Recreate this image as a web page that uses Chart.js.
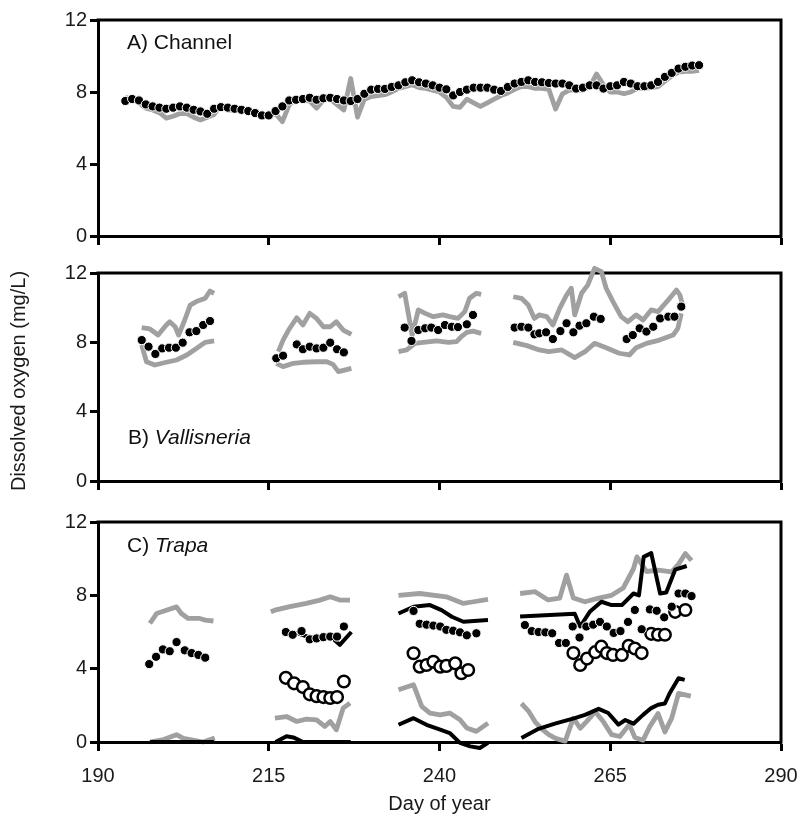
<!DOCTYPE html>
<html><head><meta charset="utf-8">
<script src="https://cdn.jsdelivr.net/npm/chart.js@4.4.1/dist/chart.umd.min.js"></script>
<style>
html,body{margin:0;padding:0;background:#fff;}
#wrap{position:relative;width:811px;height:816px;overflow:hidden;}
canvas{position:absolute;left:0;}
</style></head><body>
<div id="wrap">
<canvas id="cA" width="811" height="260" style="top:0px"></canvas>
<canvas id="cB" width="811" height="250" style="top:255px"></canvas>
<canvas id="cC" width="811" height="316" style="top:500px"></canvas>
</div>
<script>
// ---------- tick labels ----------
const xTicks = [190, 215, 240, 265, 290];
const yTicks = [0, 4, 8, 12];

// ---------- A) Channel ----------
const chDays = [194,195,196,197,198,199,200,201,202,203,204,205,206,207,208,209,210,211,212,213,214,215,216,217,218,219,220,221,222,223,224,225,226,227,228,229,230,231,232,233,234,235,236,237,238,239,240,241,242,243,244,245,246,247,248,249,250,251,252,253,254,255,256,257,258,259,260,261,262,263,264,265,266,267,268,269,270,271,272,273,274,275,276,277,278];
const chMean = [7.50,7.61,7.53,7.31,7.20,7.13,7.07,7.13,7.20,7.13,7.01,6.92,6.79,7.07,7.16,7.13,7.07,7.01,6.94,6.83,6.70,6.70,6.94,7.20,7.53,7.57,7.61,7.68,7.57,7.65,7.68,7.61,7.53,7.50,7.61,7.90,8.13,8.17,8.17,8.28,8.37,8.54,8.65,8.54,8.47,8.37,8.24,8.15,7.81,8.00,8.13,8.24,8.24,8.24,8.13,8.06,8.28,8.47,8.56,8.65,8.56,8.54,8.50,8.47,8.47,8.37,8.19,8.24,8.37,8.37,8.19,8.32,8.37,8.56,8.47,8.32,8.32,8.37,8.56,8.84,9.06,9.30,9.40,9.47,9.49];
const chGray = [7.70,7.60,7.40,7.10,7.00,6.85,6.55,6.65,6.80,6.80,6.60,6.45,6.60,6.75,7.30,7.00,7.00,7.00,6.90,6.80,6.70,6.65,6.80,6.35,7.30,7.60,7.55,7.50,7.10,7.55,7.60,7.30,7.00,8.75,6.60,7.60,7.75,7.80,7.85,8.00,8.20,8.30,8.40,8.25,8.20,8.10,8.00,7.70,7.20,7.15,7.60,7.40,7.20,7.40,7.60,7.80,7.95,8.15,8.30,8.30,8.20,8.20,8.15,7.05,7.90,8.10,8.10,8.10,8.30,9.00,8.40,8.00,8.00,7.90,8.00,8.20,8.20,8.25,8.30,8.60,8.90,9.10,9.15,9.15,9.20];

// ---------- B) Vallisneria ----------  [day, mg/L]
const vaMean = [[196.4,8.13],[197.4,7.75],[198.4,7.33],[199.4,7.65],[200.4,7.69],[201.4,7.69],[202.4,7.98],[203.4,8.58],[204.4,8.65],[205.4,9.0],[206.4,9.23],
  [216.1,7.08],[217.1,7.23],[219.1,7.88],[220,7.6],[221,7.75],[222,7.65],[223,7.69],[224,7.98],[225,7.6],[226,7.42],
  [234.9,8.85],[235.9,8.08],[236.9,8.71],[237.9,8.81],[238.8,8.85],[239.8,8.71],[240.8,9.0],[241.8,8.9],[242.7,8.88],[244,9.04],[244.9,9.58],
  [251,8.85],[252,8.9],[253,8.85],[253.9,8.46],[254.6,8.52],[255.6,8.58],[256.6,8.19],[257.7,8.65],[258.6,9.1],[259.6,8.58],[260.5,8.96],[261.5,9.1],[262.6,9.48],[263.6,9.35],
  [267.4,8.19],[268.3,8.42],[269.3,8.81],[270.3,8.62],[271.3,8.9],[272.3,9.38],[273.5,9.48],[274.4,9.48],[275.4,10.06]];
const vaHigh = [[196.4,8.85],[197.6,8.77],[198.8,8.42],[200,9.0],[200.5,9.19],[201.3,8.9],[201.8,8.42],[202.7,9.29],[203.5,10.15],[204.4,10.35],[205.7,10.54],[206.4,10.96],[207,10.83],[211,null],
  [216.4,7.46],[217.1,8.13],[217.9,8.71],[219.1,9.42],[220,9.0],[221,9.67],[222,9.38],[223,8.9],[224,8.9],[224.9,9.19],[225.9,8.71],[227.1,8.46],[230,null],
  [234,10.63],[234.9,10.83],[236,8.42],[236.9,9.87],[237.9,9.67],[239.1,9.48],[240.5,9.58],[241.5,9.48],[242.7,9.38],[243.7,9.77],[244.4,10.54],[245.4,10.83],[246.1,10.77],[249,null],
  [250.8,10.63],[252,10.54],[253,10.15],[253.9,9.38],[254.6,9.58],[255.7,9.48],[256.6,9.0],[257.6,9.96],[258.6,10.73],[259.3,11.12],[259.8,9.58],[260.8,10.83],[261.7,11.3],[262.7,12.27],[263.7,12.08],[264.4,11.12],[265.4,10.35],[266.6,9.48],[267.6,9.19],[268.8,9.58],[269.8,9.29],[271,9.87],[272,9.77],[273.7,10.54],[274.7,11.02],[275.2,10.73],[275.6,10.15]];
const vaLow = [[196.4,7.85],[197.1,6.88],[198.3,6.69],[200,6.85],[201.5,6.98],[203,7.27],[204.4,7.65],[205.7,8.0],[207,8.08],[211,null],
  [216.1,6.79],[217.1,6.6],[218.6,6.79],[220,6.85],[222,6.88],[223.5,6.88],[224.4,6.73],[225.2,6.31],[226.1,6.4],[227.1,6.5],[230,null],
  [234,7.46],[235.2,7.56],[236.4,7.94],[237.6,8.0],[239.6,8.08],[241.3,8.0],[242.5,8.04],[243.2,8.33],[244,8.58],[244.9,8.65],[246.1,8.52],[249,null],
  [250.8,8.0],[252.8,7.81],[254.6,7.56],[256,7.46],[257.9,7.56],[259.8,7.12],[261.3,7.46],[262.7,7.94],[264.4,7.69],[266.3,7.37],[267.8,7.27],[268.8,7.69],[270.3,7.94],[272.2,8.13],[274.2,8.42],[274.9,8.81],[275.4,9.67]];

// ---------- C) Trapa ----------  [day, mg/L]
const trFilled = [[197.5,4.25],[198.5,4.65],[199.5,5.05],[200.5,4.95],[201.5,5.45],[202.7,5.0],[203.7,4.85],[204.7,4.75],[205.7,4.6],
  [217.5,6.0],[218.5,5.85],[219.8,6.05],[221,5.6],[222,5.65],[223,5.72],[224,5.75],[225,5.75],[226,6.3],
  [236.2,7.15],[237.1,6.45],[238.1,6.4],[239.1,6.35],[240.1,6.3],[241,6.12],[242,6.07],[243,5.98],[244,5.82],[245.4,5.93],
  [252.5,6.38],[253.5,6.05],[254.5,6.0],[255.5,5.98],[256.5,5.93],[257.5,5.4],[258.5,5.4],[259.5,6.3],[260.5,5.7],[261.5,6.3],[262.5,6.4],[263.5,6.55],[264.5,6.3],[265.5,5.95],[266.5,6.05],[267.6,6.55],[268.6,7.2],[269.6,6.15],[270.8,7.23],[271.8,7.16],[272.9,6.8],[274,7.38],[275,8.1],[276,8.1],[276.9,7.96]];
const trOpen = [[217.5,3.5],[218.7,3.2],[220,3.0],[221,2.6],[222,2.5],[223,2.45],[224,2.4],[225,2.45],[226,3.3],
  [236.2,4.84],[237.1,4.11],[238.1,4.2],[239.1,4.38],[240.1,4.11],[241,4.15],[242.3,4.29],[243.2,3.75],[244.2,3.93],
  [259.6,4.85],[260.6,4.2],[261.6,4.55],[262.8,4.9],[263.7,5.2],[264.5,4.85],[265.4,4.75],[266.7,4.75],[267.7,5.25],[268.6,5.1],[269.6,4.85],[271,5.9],[272,5.85],[273,5.85],[274.5,7.1],[276,7.2]];
const trGrayHigh = [[197.6,6.47],[198.6,7.01],[200,7.19],[201.5,7.37],[202.2,7.01],[203.2,6.74],[204.9,6.74],[205.7,6.65],[206.9,6.6],[211,null],
  [215.3,7.1],[215.9,7.19],[218.1,7.38],[220.5,7.56],[222.5,7.74],[224,7.92],[225.4,7.74],[226.9,7.74],[230,null],
  [234,8.0],[237.1,8.1],[241,7.92],[243.5,7.56],[245,7.65],[247.1,7.78],[249,null],
  [251.8,8.1],[254,8.2],[255.9,7.75],[257.6,7.85],[258.6,9.1],[259.6,7.85],[261.3,7.65],[263.3,7.85],[265.2,8.0],[266.9,8.4],[268.4,9.45],[268.9,10.1],[270.3,9.3],[272,9.37],[274,9.28],[275,9.7],[276,10.28],[276.9,9.9]];
const trBlackHigh = [[217.4,5.95],[219.3,5.93],[221,5.7],[223,5.75],[224.5,5.6],[225.4,5.3],[227.1,6.0],[230,null],
  [234,7.01],[236.2,7.38],[238.6,7.47],[240.3,7.19],[241.8,6.83],[243.5,6.56],[247.1,6.65],[249,null],
  [251.8,6.85],[259.8,7.0],[260.6,6.3],[262,7.1],[263.7,7.65],[265.2,7.47],[266.7,7.47],[268.4,8.1],[269.2,8.0],[269.9,10.1],[271,10.3],[272.3,8.1],[273.2,8.15],[274.5,9.4],[276.2,9.6]];
const trGrayLow = [[197.6,0.0],[199.6,0.13],[201.5,0.4],[202.5,0.2],[203.5,0.13],[205.4,0.0],[207.1,0.22],[211,null],
  [215.9,1.3],[217.6,1.39],[219.1,1.12],[220.5,1.25],[222,1.21],[223.2,0.85],[224,1.12],[224.9,0.67],[225.9,1.85],[226.9,2.12],[230,null],
  [234,2.85],[236.2,3.12],[237.4,1.94],[238.6,1.58],[240.1,1.48],[241.5,1.58],[243,1.21],[244,0.76],[245.4,0.58],[247.1,1.03],[249,null],
  [252,2.1],[253,1.7],[254,1.1],[255,0.7],[256,0.4],[257,0.2],[258.4,0.05],[259.6,1.3],[260.6,0.75],[261.5,1.1],[262.8,1.65],[264,1.1],[265.2,0.4],[266.4,0.3],[267.8,0.95],[268.6,0.25],[269.8,0.1],[270.8,0.85],[272,1.55],[273,0.55],[274,1.3],[275,2.65],[276.8,2.5]];
const trBlackLow = [[197.6,0],[207,0],[211,null],
  [216,0],[217.6,0.31],[218.6,0.25],[220,0],[227,0],[230,null],
  [234,0.94],[236.2,1.3],[238.1,0.94],[240.1,0.67],[241.5,0.49],[243,-0.05],[244.5,-0.24],[245.9,-0.33],[247.1,-0.05],[249,null],
  [252,0.22],[254.5,0.72],[256.9,1.0],[259.8,1.3],[261.3,1.48],[263.3,1.81],[264.7,1.58],[266.2,0.95],[267.2,1.2],[268.4,1.0],[269.8,1.48],[271,1.85],[272,2.03],[273,2.1],[273.7,2.66],[275,3.48],[275.9,3.39]];

// ---------- styling / helpers ----------
const FONT = '"Liberation Sans", Arial, Helvetica, sans-serif';
const GRAY = '#a0a0a0';
const pts = (days, vals) => days.map((d, i) => ({x: d, y: vals[i]}));
const pairs = arr => arr.map(p => ({x: p[0], y: p[1]}));

function lineDS(data, color, width, order) {
  return {data, showLine: true, borderColor: color, borderWidth: width, pointRadius: 0,
    pointHoverRadius: 0, spanGaps: false, tension: 0, clip: false, order,
    borderJoinStyle: 'round', borderCapStyle: 'butt', fill: false};
}
function dotDS(data, filled, order) {
  return {data, showLine: false, order, clip: false,
    pointRadius: filled ? 4.6 : 5.8, pointHoverRadius: filled ? 4.6 : 5.8,
    pointBackgroundColor: filled ? '#000' : '#fff',
    pointBorderColor: filled ? '#fff' : '#000',
    pointBorderWidth: filled ? 1 : 2.5};
}

const framePlugin = {
  id: 'frame',
  beforeDatasetsDraw(chart) {
    const {ctx, chartArea: {left, top, right, bottom}} = chart;
    ctx.save();
    ctx.strokeStyle = '#000';
    ctx.lineWidth = 3;
    ctx.beginPath();
    ctx.moveTo(left - 1.5, top);
    ctx.lineTo(right, top);
    ctx.lineTo(right, bottom + 1.5);
    ctx.stroke();
    ctx.restore();
  }
};
const labelPlugin = {
  id: 'panelLabel',
  afterDraw(chart, args, opts) {
    const {ctx, chartArea} = chart;
    if (opts.parts) {
      let x = chartArea.left + opts.dx;
      const y = opts.fromBottom ? chartArea.bottom - opts.dy : chartArea.top + opts.dy;
      ctx.save();
      ctx.fillStyle = '#111';
      ctx.textBaseline = 'middle';
      for (const [t, italic] of opts.parts) {
        ctx.font = (italic ? 'italic ' : '') + '21px ' + FONT;
        ctx.fillText(t, x, y);
        x += ctx.measureText(t).width;
      }
      ctx.restore();
    }
    if (opts.yTitle) {
      ctx.save();
      ctx.fillStyle = '#1a1a1a';
      ctx.font = '20px ' + FONT;
      ctx.textAlign = 'center';
      ctx.textBaseline = 'middle';
      ctx.translate(opts.yTitle.x, (chartArea.top + chartArea.bottom) / 2 + opts.yTitle.dy);
      ctx.rotate(-Math.PI / 2);
      ctx.fillText(opts.yTitle.text, 0, 0);
      ctx.restore();
    }
  }
};

function makeChart(id, datasets, o) {
  return new Chart(document.getElementById(id), {
    type: 'line',
    data: {datasets},
    plugins: [framePlugin, labelPlugin],
    options: {
      responsive: false, animation: false, events: [],
      layout: {padding: {top: o.padTop, right: 30, bottom: 0, left: 0}},
      plugins: {legend: {display: false}, tooltip: {enabled: false}, panelLabel: o.label},
      scales: {
        x: {
          type: 'linear', min: 190, max: 290,
          afterBuildTicks: s => { s.ticks = xTicks.map(v => ({value: v})); },
          afterFit: s => { s.height = o.xHeight; },
          ticks: {display: o.xLabels, autoSkip: false, maxRotation: 0, padding: 13,
            color: '#1a1a1a', font: {family: FONT, size: 20}, callback: v => String(v)},
          grid: {drawOnChartArea: false, drawTicks: true, tickLength: 9, tickWidth: 3, tickColor: '#000'},
          border: {display: true, color: '#000', width: 3},
          title: {display: o.xLabels, text: 'Day of year', color: '#1a1a1a',
            font: {family: FONT, size: 20}, padding: {top: 0, bottom: 0}}
        },
        y: {
          type: 'linear', min: 0, max: 12,
          afterBuildTicks: s => { s.ticks = yTicks.map(v => ({value: v})); },
          afterFit: s => { s.width = 98; },
          ticks: {padding: 3, color: '#1a1a1a', font: {family: FONT, size: 20}, callback: v => String(v)},
          grid: {drawOnChartArea: false, drawTicks: true, tickLength: 8, tickWidth: 3, tickColor: '#000'},
          border: {display: true, color: '#000', width: 3}
        }
      }
    }
  });
}

makeChart('cA', [
  dotDS(pts(chDays, chMean), true, 1),
  lineDS(pts(chDays, chGray), GRAY, 4.8, 5)
], {padTop: 20, xHeight: 24, xLabels: false,
    label: {parts: [['A) Channel', false]], dx: 29, dy: 23}});

makeChart('cB', [
  dotDS(pairs(vaMean), true, 1),
  lineDS(pairs(vaHigh), GRAY, 4.8, 5),
  lineDS(pairs(vaLow), GRAY, 4.8, 6)
], {padTop: 18, xHeight: 24, xLabels: false,
    label: {parts: [['B) ', false], ['Vallisneria', true]], dx: 30, dy: 43, fromBottom: true,
            yTitle: {text: 'Dissolved oxygen (mg/L)', x: 19, dy: 4}}});

makeChart('cC', [
  dotDS(pairs(trFilled), true, 1),
  dotDS(pairs(trOpen), false, 2),
  lineDS(pairs(trBlackHigh), '#000', 4, 3),
  lineDS(pairs(trBlackLow), '#000', 4, 4),
  lineDS(pairs(trGrayHigh), GRAY, 4.8, 5),
  lineDS(pairs(trGrayLow), GRAY, 4.8, 6)
], {padTop: 22, xHeight: 74, xLabels: true,
    label: {parts: [['C) ', false], ['Trapa', true]], dx: 29, dy: 24}});
</script>
</body></html>
